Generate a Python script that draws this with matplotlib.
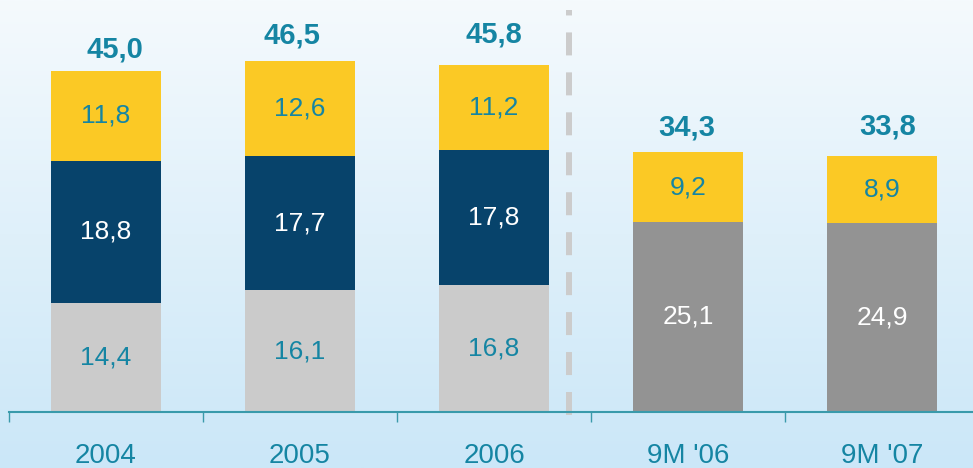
import numpy as np
import matplotlib.pyplot as plt
from matplotlib.colors import LinearSegmentedColormap

plt.rcParams['font.family'] = ['Liberation Sans', 'DejaVu Sans']

categories = ['2004', '2005', '2006', "9M '06", "9M '07"]
light_grey = [14.4, 16.1, 16.8, 0, 0]
navy = [18.8, 17.7, 17.8, 0, 0]
dark_grey = [0, 0, 0, 25.1, 24.9]
yellow = [11.8, 12.6, 11.2, 9.2, 8.9]
totals = ['45,0', '46,5', '45,8', '34,3', '33,8']

# placement of the total labels over each bar (pixels)
total_dx = [9, -8, 0, -1, 6]
total_gap = [14, 17, 23, 17, 22]

teal = '#1585a3'
fig = plt.figure(figsize=(9.73, 4.68), dpi=100)

# background gradient
bg = fig.add_axes([0, 0, 1, 1], zorder=-10)
cmap = LinearSegmentedColormap.from_list('bg', ['#cbe7f8', '#dff0fa', '#f5fafd'])
bg.imshow(np.linspace(0, 1, 256).reshape(-1, 1), aspect='auto', cmap=cmap,
          origin='lower', extent=[0, 1, 0, 1])
bg.axis('off')

ax = fig.add_axes([9/973, 56/468, 964/973, 412/468])
ax.patch.set_alpha(0)
x = np.arange(len(categories))
w = 0.565

def fmt(v):
    return ('%.1f' % v).replace('.', ',')

bottom = np.zeros(len(x))
layers = [(light_grey, '#cbcbcb', teal), (navy, '#07436b', 'white'),
          (dark_grey, '#939393', 'white'), (yellow, '#fbc925', teal)]
for vals, col, tcol in layers:
    vals = np.array(vals)
    ax.bar(x, vals, w, bottom=bottom, color=col, linewidth=0)
    for xi, v, b in zip(x, vals, bottom):
        if v > 0:
            ax.text(xi, b + v / 2, fmt(v), ha='center', va='center',
                    color=tcol, fontsize=19)
    bottom = bottom + vals

for xi, top, lab, dx, gap in zip(x, bottom, totals, total_dx, total_gap):
    ax.annotate(lab, (xi, top), xytext=(dx * 0.72, gap * 0.72),
                textcoords='offset points', ha='center', va='baseline',
                color=teal, fontsize=21, fontweight='bold')

ax.axvline(2.387, ymin=-0.008, ymax=0.976, color='#cccccc', lw=4.3,
           linestyle=(0, (3.85, 2.84)), clip_on=False)

ax.set_xlim(-0.5, 4.469)
ax.set_ylim(0, 54.4)
for s in ['top', 'right', 'left']:
    ax.spines[s].set_visible(False)
ax.spines['bottom'].set_color('#3a9aab')
ax.spines['bottom'].set_linewidth(1.5)
ax.set_yticks([])
ax.set_xticks(np.arange(-0.5, 4, 1))
ax.set_xticklabels([])
ax.tick_params(axis='x', which='major', length=7, width=1, color='#3a9aab')
ax.set_xticks(x, minor=True)
ax.set_xticklabels(categories, minor=True)
ax.tick_params(axis='x', which='minor', length=0, pad=22, labelsize=20,
               labelcolor=teal)

fig.savefig('out.png', dpi=100)
